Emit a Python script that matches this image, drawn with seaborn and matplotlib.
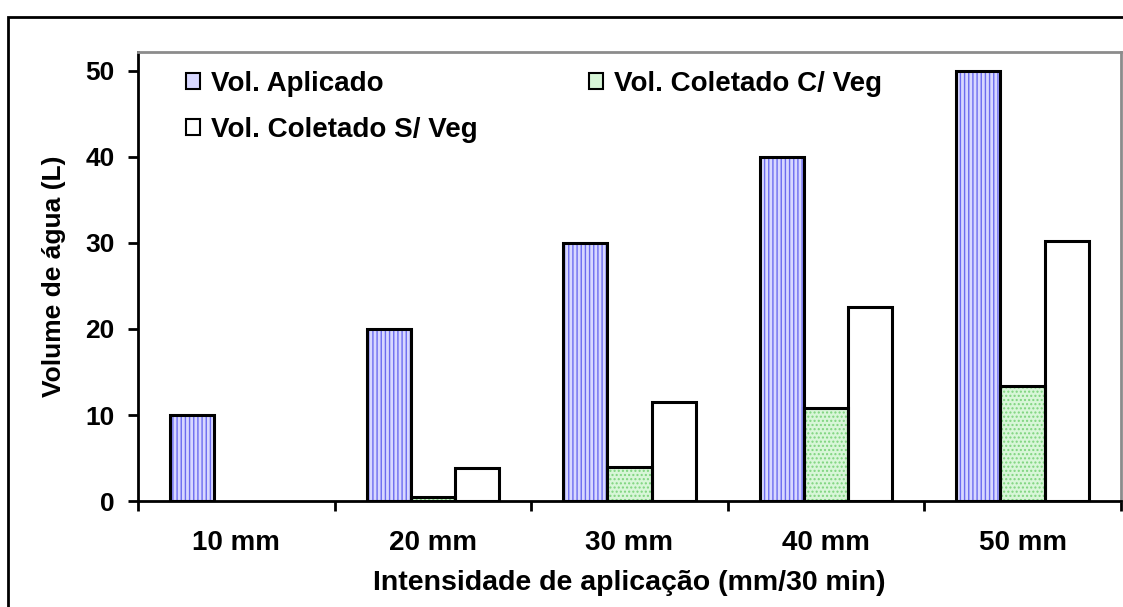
import matplotlib
matplotlib.use("Agg")
import matplotlib.pyplot as plt
from matplotlib.patches import Rectangle
import seaborn as sns
import pandas as pd

# Dados do ensaio
categorias = ["10 mm", "20 mm", "30 mm", "40 mm", "50 mm"]
vol_aplicado = [10, 20, 30, 40, 50]
vol_com_veg = [0, 0.5, 4.0, 10.8, 13.4]
vol_sem_veg = [0, 3.8, 11.5, 22.6, 30.2]
series = ["Vol. Aplicado", "Vol. Coletado C/ Veg", "Vol. Coletado S/ Veg"]
yticks = [0, 10, 20, 30, 40, 50]

df = pd.DataFrame({
    "categoria": categorias * 3,
    "serie": [series[0]] * 5 + [series[1]] * 5 + [series[2]] * 5,
    "volume": vol_aplicado + vol_com_veg + vol_sem_veg,
})

sns.set_theme(style="white")
plt.rcParams["font.family"] = ["Liberation Sans", "DejaVu Sans"]
plt.rcParams["font.weight"] = "bold"
plt.rcParams["hatch.linewidth"] = 1.0
for chave in ("text.color", "axes.labelcolor", "xtick.color", "ytick.color"):
    plt.rcParams[chave] = "black"

fig = plt.figure(figsize=(11.23, 6.07), dpi=100)
ax = fig.add_axes([0.1229, 0.1746, 0.8752, 0.7397])

estilos = {
    series[0]: dict(face="#d8d8ff", hatch="||||", hcolor="#6c6cf0"),
    series[1]: dict(face="#d8f6d8", hatch="....", hcolor="#7ed47e"),
    series[2]: dict(face="white", hatch=None, hcolor="white"),
}

sns.barplot(data=df, x="categoria", y="volume", hue="serie", order=categorias,
            hue_order=series, width=0.675, ax=ax, legend=False, saturation=1,
            errorbar=None)

handles = []
for cont, nome in zip(ax.containers, series):
    st = estilos[nome]
    for bar in cont:
        bar.set_facecolor(st["face"])
        bar.set_edgecolor(st["hcolor"])
        bar.set_linewidth(0)
        if st["hatch"]:
            bar.set_hatch(st["hatch"])
        if bar.get_height() > 0:
            ax.add_patch(Rectangle(bar.get_xy(), bar.get_width(), bar.get_height(),
                                   facecolor="none", edgecolor="black",
                                   linewidth=2.2, zorder=3))
    handles.append(Rectangle((0, 0), 1, 1, facecolor=st["face"],
                             edgecolor="black", linewidth=1.5))

# ordem das entradas: linha 1 = Aplicado, C/ Veg; linha 2 = S/ Veg
leg_order = [0, 2, 1]
ax.legend([handles[i] for i in leg_order], [series[i] for i in leg_order],
          ncol=2, loc="upper left", bbox_to_anchor=(0.028, 1.005),
          frameon=False, prop=dict(size=20, weight="bold"),
          handlelength=0.5, handleheight=0.5, handletextpad=0.4,
          columnspacing=4.0, labelspacing=0.72, borderaxespad=0.35)

ax.set_ylim(0, 52.2)
ax.set_xlim(-0.5, 4.5)
ax.set_yticks(yticks)
ax.set_yticklabels([str(v) for v in yticks], fontsize=19, fontweight="bold")
ax.set_xticks(range(len(categorias)))
ax.set_xticklabels(categorias, fontsize=20, fontweight="bold")
ax.set_xticks([i - 0.5 for i in range(len(categorias) + 1)], minor=True)
ax.tick_params(axis="x", which="major", length=0, pad=21)
ax.tick_params(axis="x", which="minor", length=7, width=2, direction="out",
               bottom=True, color="black")
ax.tick_params(axis="y", length=7, width=2, direction="out", left=True,
               color="black", pad=10)

ax.set_xlabel("Intensidade de aplicação (mm/30 min)", fontsize=20.5,
              fontweight="bold", labelpad=10)
ax.set_ylabel("Volume de água (L)", fontsize=19, fontweight="bold", labelpad=14)

for side in ("left", "bottom"):
    ax.spines[side].set_color("black")
    ax.spines[side].set_linewidth(2)
for side in ("top", "right"):
    ax.spines[side].set_color("#8c8c8c")
    ax.spines[side].set_linewidth(2)

# moldura externa
fig.patches.append(Rectangle((8 / 1123, -0.05), 1.2, 1 - 17 / 607 + 0.05,
                             transform=fig.transFigure, facecolor="none",
                             edgecolor="black", linewidth=2, zorder=0))

fig.savefig("out.png", dpi=100)
